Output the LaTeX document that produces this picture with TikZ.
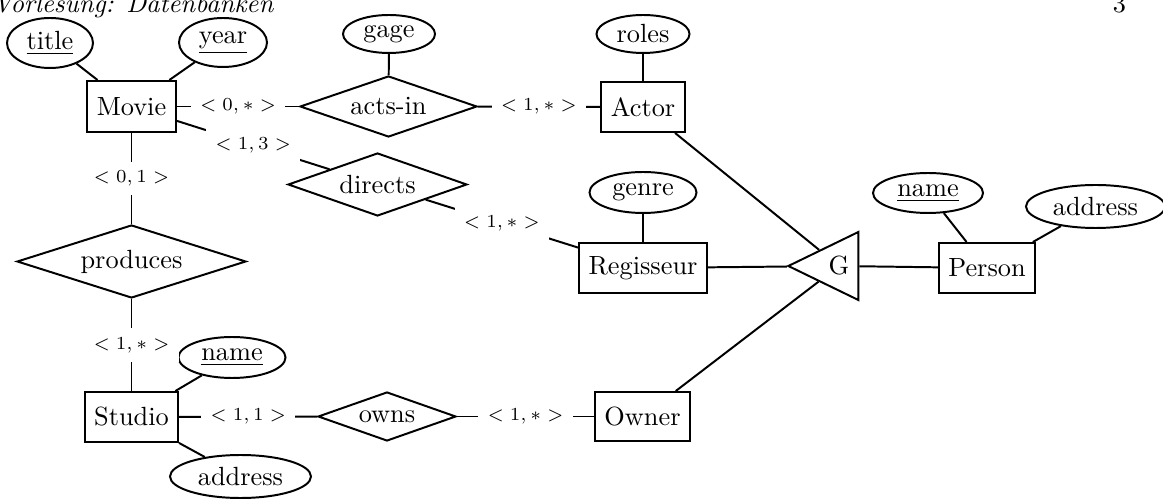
\documentclass[tikz,border=0pt]{standalone}
\usetikzlibrary{shapes.geometric}
\tikzset{
  sz/.style 2 args={minimum width=#1*0.38pt, minimum height=#2*0.38pt},
  ent/.style={draw, rectangle, inner sep=0pt},
  attr/.style={draw, ellipse, inner sep=0pt},
  rel/.style={draw, diamond, aspect=3, inner sep=0pt},
  card/.style={fill=white, inner sep=3.5pt, font=\scriptsize},
  gtri/.style={draw, isosceles triangle, isosceles triangle stretches, shape border rotate=180, inner sep=0pt},
}
\begin{document}
\begin{tikzpicture}[x=0.38pt, y=-0.38pt, line width=0.75pt]
\useasboundingbox (0,0) rectangle (1163,499);
\node[anchor=base west, inner sep=0pt, font=\itshape] (hdr) at (-8,13) {Vorlesung: Datenbanken};
\node[anchor=base east, inner sep=0pt] (pg) at (1127,13) {3};

\node[ent, sz={89}{51}] (movie) at (131.5,106.5) {Movie};
\node[attr, sz={86}{50}] (title) at (50,43) {\underline{title}};
\node[attr, sz={88}{49}] (year) at (223,42.5) {\underline{year}};
\node[rel, sz={177}{61}] (actsin) at (388.5,106.5) {acts-in};
\node[attr, sz={92}{38}] (gage) at (389,34) {gage};
\node[ent, sz={84}{50}] (actor) at (643,107) {Actor};
\node[attr, sz={93}{38}] (roles) at (643,34) {roles};
\node[rel, sz={179}{63}] (directs) at (377.5,184.5) {directs};
\node[ent, sz={128}{50}] (reg) at (643,268) {Regisseur};
\node[attr, sz={107}{41}] (genre) at (643,192.5) {genre};
\node[gtri, sz={68}{70}] (G) at (839,266) {G};
\node[ent, sz={96}{50}] (person) at (987,268) {Person};
\node[attr, sz={110}{40}] (pname) at (928,193) {\underline{name}};
\node[attr, sz={139}{43}] (paddr) at (1095.5,206.5) {address};
\node[rel, sz={229}{73}] (produces) at (131.5,261.5) {produces};
\node[ent, sz={93}{50}] (studio) at (131.5,417) {Studio};
\node[attr, sz={107}{41}] (sname) at (232,357.5) {\underline{name}};
\node[attr, sz={141}{43}] (saddr) at (240.5,476.5) {address};
\node[rel, sz={138}{49}] (owns) at (387,416.5) {owns};
\node[ent, sz={95}{49}] (owner) at (642.5,416.5) {Owner};

\draw (movie) -- node[card]{$<0,*>$} (actsin);
\draw (actsin) -- node[card]{$<1,*>$} (actor);
\draw (movie) -- node[card]{$<1,3>$} (directs);
\draw (directs) -- node[card]{$<1,*>$} (reg);
\draw (movie) -- node[card]{$<0,1>$} (produces);
\draw (produces) -- node[card]{$<1,*>$} (studio);
\draw (studio) -- node[card]{$<1,1>$} (owns);
\draw (owns) -- node[card]{$<1,*>$} (owner);

\draw (title) -- (movie);
\draw (year) -- (movie);
\draw (gage) -- (actsin);
\draw (roles) -- (actor);
\draw (genre) -- (reg);
\draw (pname) -- (person);
\draw (paddr) -- (person);
\draw (sname) -- (studio);
\draw (saddr) -- (studio);

\draw (actor) -- (G);
\draw (reg) -- (G);
\draw (owner) -- (G);
\draw (G) -- (person);
\end{tikzpicture}
\end{document}
